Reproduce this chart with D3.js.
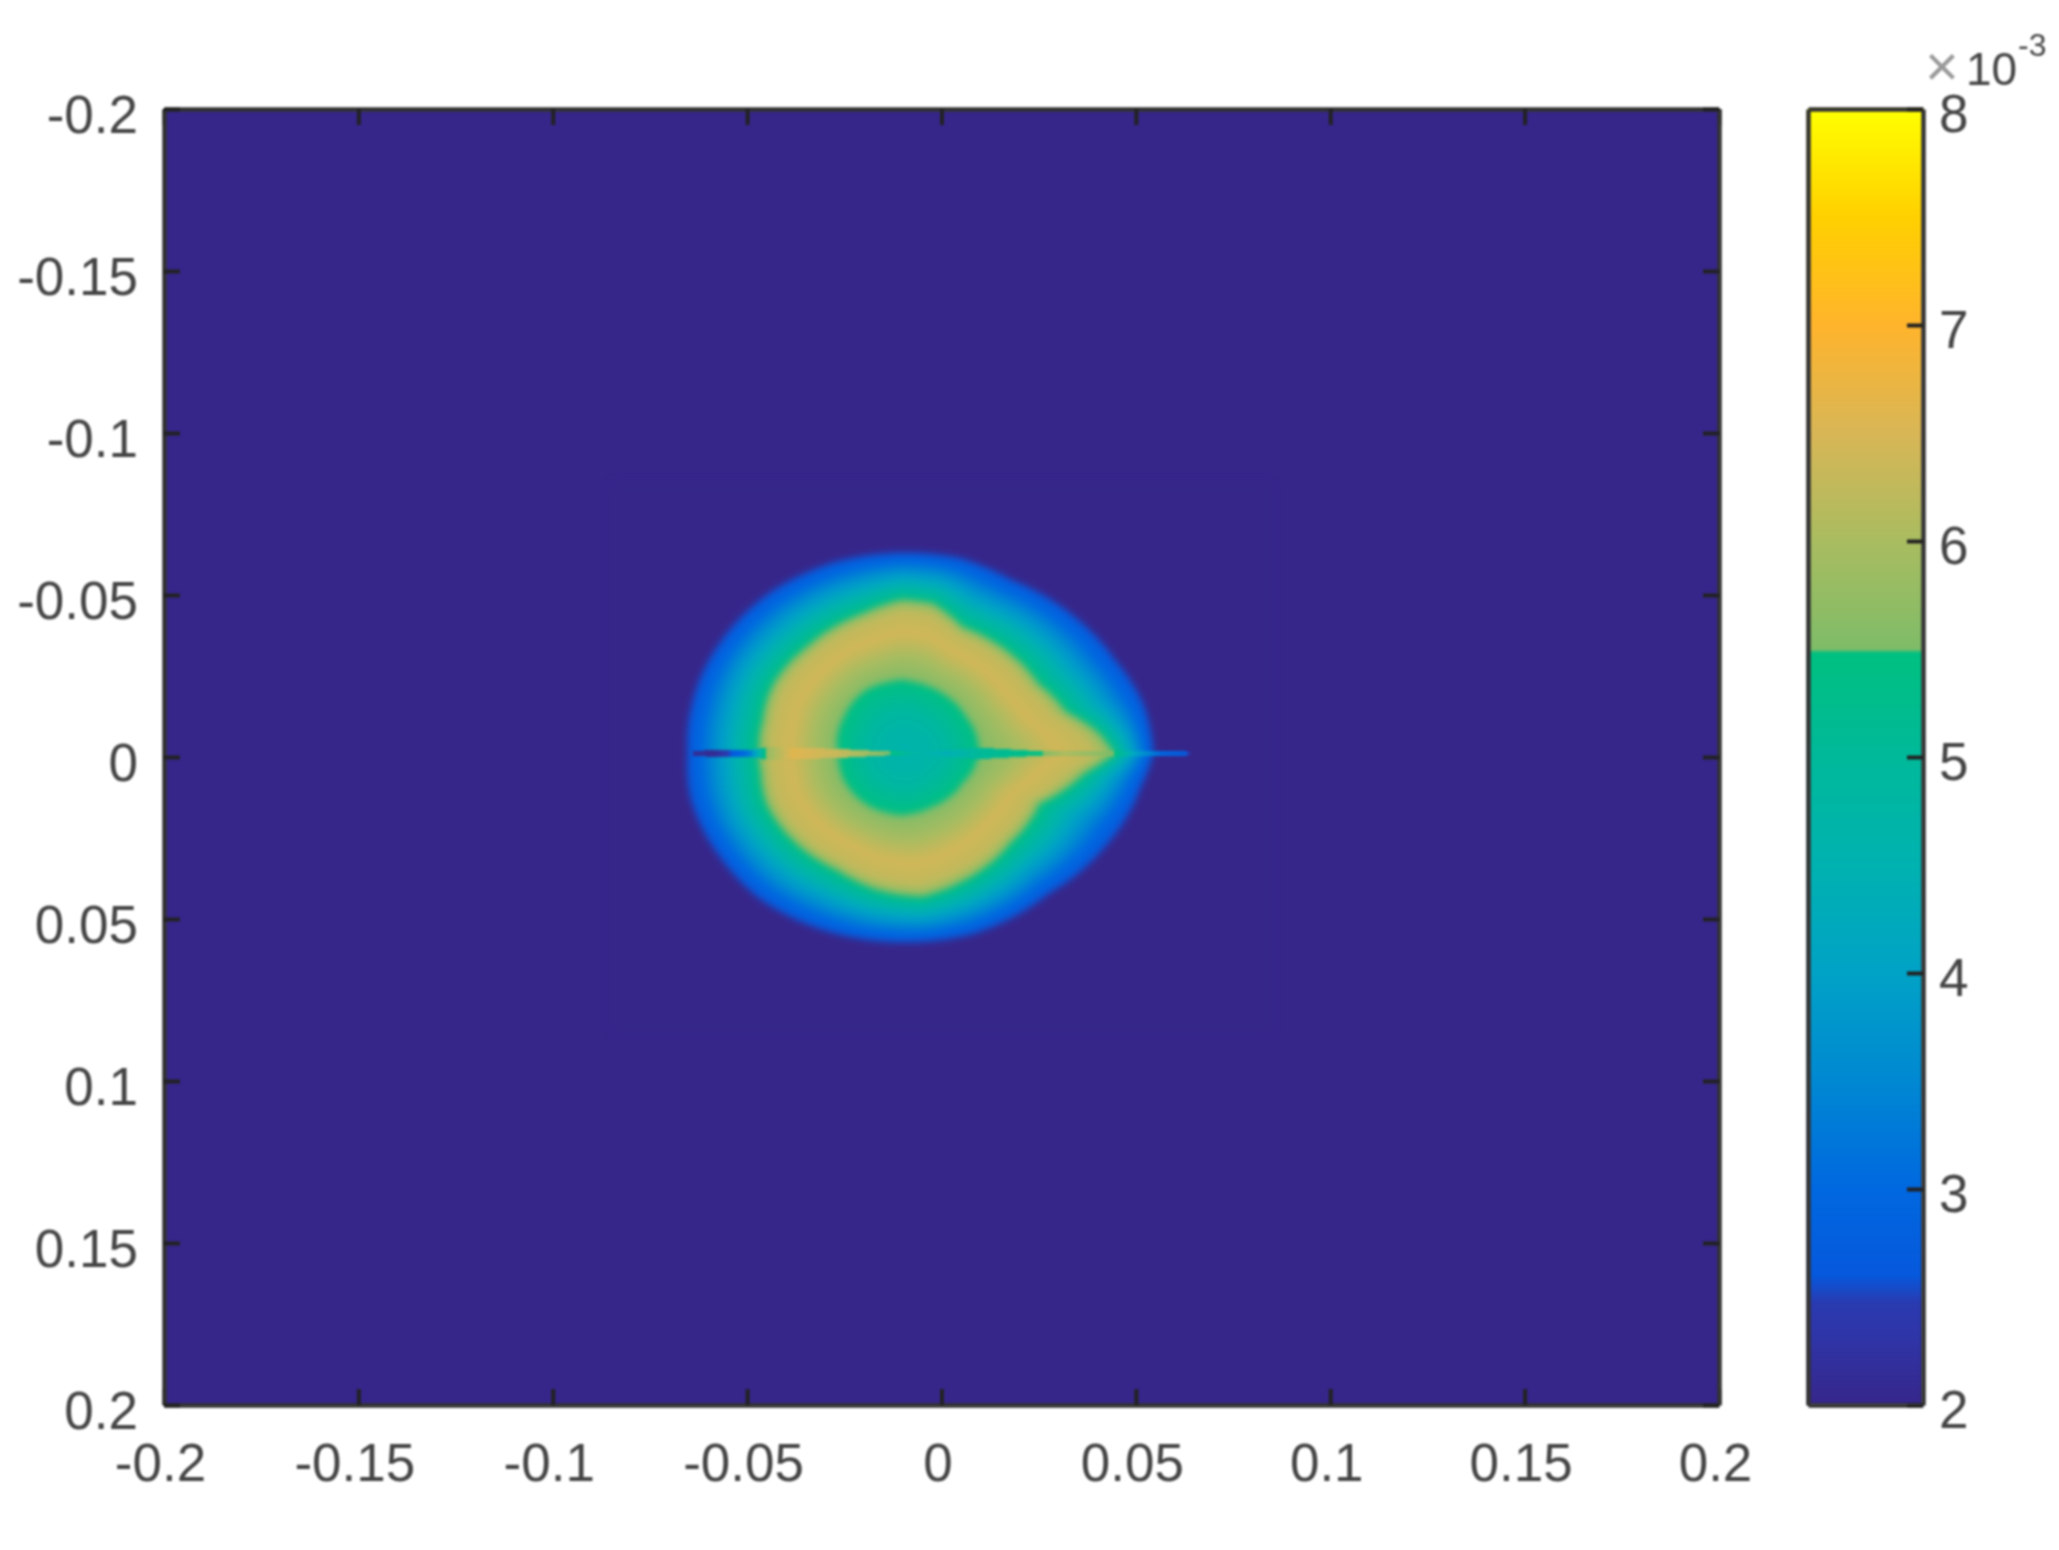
<!DOCTYPE html>
<html><head><meta charset="utf-8">
<script src="https://cdn.jsdelivr.net/npm/d3@7"></script>
<style>
html,body{margin:0;padding:0;background:#fff;width:2059px;height:1550px;overflow:hidden}
canvas,#bg{position:absolute}
#field{filter:blur(3.5px)}
#streak{filter:blur(1.4px)}
#bar{filter:blur(1.2px)}
svg{position:absolute;left:0;top:0}
svg text{font-family:"Liberation Sans",Arial,sans-serif;fill:#444}
#chart{filter:blur(.9px)}
</style></head><body>
<div id="bg"></div><canvas id="field"></canvas><canvas id="streak"></canvas><canvas id="bar"></canvas>
<svg id="chart" width="2059" height="1550"></svg>
<script>
// axis ticks
const xTicks=[-0.2,-0.15,-0.1,-0.05,0,0.05,0.1,0.15,0.2];
const xTickLabels=["-0.2","-0.15","-0.1","-0.05","0","0.05","0.1","0.15","0.2"];
const yTicks=[-0.2,-0.15,-0.1,-0.05,0,0.05,0.1,0.15,0.2];
const yTickLabels=["-0.2","-0.15","-0.1","-0.05","0","0.05","0.1","0.15","0.2"];
const cTicks=[2,3,4,5,6,7,8];
// colour map (value in 1e-3 units)
const cmapValues=[2,2.3,2.47,2.6,3,3.5,4,4.5,5,5.48,5.5,6,6.5,7,7.5,8];
const cmapColors=["#36268a","#2f34a6","#2a3ab0","#0658dc","#0068e0","#0088d2","#00a2c6","#00b2b0","#00b99a","#00c080","#7fbc68","#a9bc60","#d8b656","#ffb42c","#ffd000","#ffff00"];
// centre of the ring (units of 1e-3)
const centerX=-9, centerY=-1.1;
// outer edge of the blob
const outerX=[54.4,52.0,44.4,34.9,17.7,4.4,-10.3,-27.9,-44.1,-57.4,-64.1,-65.1,-64.6,-57.4,-46.0,-29.8,-10.3,8.2,27.3,42.5,51.1];
const outerY=[-1.1,-15.5,-29.9,-42.3,-54.6,-61.3,-62.9,-59.8,-50.5,-34.1,-15.5,-1.1,11.2,29.7,44.1,53.4,57.0,54.4,42.1,26.6,9.2];
// outer edge of the warm ring
const ridgeX=[44.4,40.6,32.0,24.9,17.7,5.4,-2.2,-10.3,-20.3,-34.6,-43.2,-46.0,-47.0,-46.5,-45.1,-38.4,-27.0,-16.5,-5.1,4.4,17.7,25.3,36.8];
const ridgeY=[-1.1,-7.3,-14.0,-22.7,-32.0,-40.2,-47.4,-48.5,-44.3,-34.1,-22.7,-11.4,-1.1,5.0,14.3,25.6,34.9,41.0,43.1,39.0,26.6,14.3,5.0];
// inner edge of the warm ring
const innerX=[9.6,6.3,-1.3,-10.3,-19.4,-25.1,-26.5,-24.6,-18.4,-10.3,-2.2,5.4];
const innerY=[-1.1,-12.4,-20.7,-23.8,-20.7,-12.4,-1.1,8.1,15.3,17.9,15.3,8.1];
// radial value profiles
const coreT=[0,0.5,1], coreV=[4.55,4.8,5.47];
const ringT=[0,0.25,0.58,0.85,1], ringV=[5.52,5.9,6.42,6.25,5.55];
const shellT=[0,0.25,0.55,0.8,1,1.04], shellV=[5.47,4.7,3.8,3.05,2.62,2.0];
// thin streak along the axis
const streakX=[-64,-58.5,-53.9,-49.3,-46.1,-44.7,-38.3,-26.4,-14,-8,1.2,9.5,25.1,31.5,44.4,50,56.4,62.8,64.7];
const streakV=[2.1,2.1,2.6,3.3,5.0,5.8,6.6,6.3,5.6,4.8,4.4,5.0,5.4,6.0,5.5,4.0,3.0,2.7,2.0];
const streakH=[0.7,1.1,1.1,1.0,1.7,2.0,1.8,1.4,0.6,0.7,0.9,1.8,0.7,0.8,0.7,0.8,0.9,0.7,0.2];

const L=164,R=1719,T=109,B=1405,CL=1808,CR=1923;
const x=d3.scaleLinear().domain([-0.2,0.2]).range([L,R]);
const y=d3.scaleLinear().domain([-0.2,0.2]).range([T,B]);
const cy=d3.scaleLinear().domain([2,8]).range([B,T]);
const color=d3.scaleLinear().domain(cmapValues).range(cmapColors).interpolate(d3.interpolateRgb).clamp(true);

function polar(xs,ys){
  const p=xs.map((v,i)=>{const dx=v-centerX,dy=ys[i]-centerY;return [Math.atan2(dy,dx),Math.hypot(dx,dy)];}).sort((a,b)=>a[0]-b[0]);
  const a=p[p.length-1],b=p[0];
  return d3.scaleLinear().domain([a[0]-2*Math.PI,...p.map(d=>d[0]),b[0]+2*Math.PI]).range([a[1],...p.map(d=>d[1]),b[1]]);
}
const rOuter=polar(outerX,outerY),rRidge=polar(ridgeX,ridgeY),rInner=polar(innerX,innerY);
const core=d3.scaleLinear().domain(coreT).range(coreV).clamp(true);
const ring=d3.scaleLinear().domain(ringT).range(ringV).clamp(true);
const shell=d3.scaleLinear().domain(shellT).range(shellV).clamp(true);
const sV=d3.scaleLinear().domain(streakX).range(streakV).clamp(true);
const sH=d3.scaleLinear().domain(streakX).range(streakH).clamp(true);

function fieldAt(dx,dy){
  const X=dx*1000,Y=dy*1000;
  const vx=X-centerX,vy=Y-centerY,a=Math.atan2(vy,vx),r=Math.hypot(vx,vy);
  const ri=rInner(a),rr=rRidge(a),ro=rOuter(a);
  if(r<ri) return core(r/ri);
  if(r<rr) return ring((r-ri)/(rr-ri));
  return shell((r-rr)/(ro-rr));
}
function streakAt(dx,dy){
  const X=dx*1000,Y=dy*1000;
  if(X>=streakX[0]&&X<=streakX[streakX.length-1]&&Math.abs(Y-centerY)<sH(X)) return sV(X);
  return null;
}
// flat background of the plot
const bg=document.getElementById('bg');
bg.style.cssText=`left:${L}px;top:${T}px;width:${R-L}px;height:${B-T}px;background:${color(2)}`;
// heat map: the blob region, then the streak on top
const x0=Math.round(x(-0.085)),x1=Math.round(x(0.085)),y0=Math.round(y(-0.085)),y1=Math.round(y(0.085));
const W=x1-x0,H=y1-y0;
const lut=d3.range(0,1201).map(i=>{const c=d3.rgb(color(2+i*6/1200));return [c.r,c.g,c.b];});
function paint(id,fn){
  const c=document.getElementById(id);
  c.width=W;c.height=H;c.style.left=x0+'px';c.style.top=y0+'px';
  const g=c.getContext('2d'),img=g.createImageData(W,H);
  for(let j=0;j<H;j++){
    const dy=y.invert(y0+j+.5);
    for(let i=0;i<W;i++){
      const v=fn(x.invert(x0+i+.5),dy);
      if(v===null) continue;
      const q=lut[Math.max(0,Math.min(1200,Math.round((v-2)*200)))];
      const k=(j*W+i)*4;
      img.data[k]=q[0];img.data[k+1]=q[1];img.data[k+2]=q[2];img.data[k+3]=255;
    }
  }
  g.putImageData(img,0,0);
}
paint('field',fieldAt);
paint('streak',streakAt);
// colour bar
const bc=document.getElementById('bar');
bc.width=CR-CL;bc.height=B-T;bc.style.left=CL+'px';bc.style.top=T+'px';
const bx=bc.getContext('2d');
for(let j=0;j<bc.height;j++){bx.fillStyle=color(cy.invert(T+j+.5));bx.fillRect(0,j,bc.width,1);}

const svg=d3.select('#chart');
const FS=53, tick=16;
function style(g){
  g.selectAll('.domain').attr('stroke','#333').attr('stroke-width',4.5).attr('fill','none');
  g.selectAll('.tick line').attr('stroke','#222').attr('stroke-width',4);
  g.selectAll('text').attr('font-size',FS).attr('fill','#444');
}
const noLab=()=>"";
const gb=svg.append('g').attr('transform',`translate(0,${B})`)
  .call(d3.axisBottom(x).tickValues(xTicks).tickSize(-tick).tickSizeOuter(0).tickPadding(38).tickFormat((d,i)=>xTickLabels[i])).call(style);
gb.selectAll('text').attr('dx',-4);
svg.append('g').attr('transform',`translate(0,${T})`)
  .call(d3.axisTop(x).tickValues(xTicks).tickSize(-tick).tickSizeOuter(0).tickFormat(noLab)).call(style);
const ga=svg.append('g').attr('transform',`translate(${L},0)`)
  .call(d3.axisLeft(y).tickValues(yTicks).tickSize(-tick).tickSizeOuter(0).tickPadding(26).tickFormat((d,i)=>yTickLabels[i])).call(style);
ga.selectAll('text').attr('dy','0.45em');
svg.append('g').attr('transform',`translate(${R},0)`)
  .call(d3.axisRight(y).tickValues(yTicks).tickSize(-tick).tickSizeOuter(0).tickFormat(noLab)).call(style);
// colour bar frame and axis
svg.append('g').attr('transform',`translate(${CL},0)`)
  .call(d3.axisLeft(cy).tickValues([]).tickSize(0).tickSizeOuter(0)).call(style);
svg.append('g').attr('transform',`translate(0,${T})`)
  .call(d3.axisTop(d3.scaleLinear().domain([0,1]).range([CL,CR])).tickValues([]).tickSizeOuter(0)).call(style);
svg.append('g').attr('transform',`translate(0,${B})`)
  .call(d3.axisBottom(d3.scaleLinear().domain([0,1]).range([CL,CR])).tickValues([]).tickSizeOuter(0)).call(style);
const gc=svg.append('g').attr('transform',`translate(${CR},0)`)
  .call(d3.axisRight(cy).tickValues(cTicks).tickSize(-tick).tickSizeOuter(0).tickPadding(16).tickFormat(d3.format('d'))).call(style);
gc.selectAll('text').attr('dy','0.42em');
// multiplier
svg.append('text').attr('x',1925).attr('y',86).attr('font-size',58).style('fill','#999').text('×');
svg.append('text').attr('x',1966).attr('y',85).attr('font-size',46).text('10');
svg.append('text').attr('x',2018).attr('y',56).attr('font-size',32).text('-3');
</script></body></html>
